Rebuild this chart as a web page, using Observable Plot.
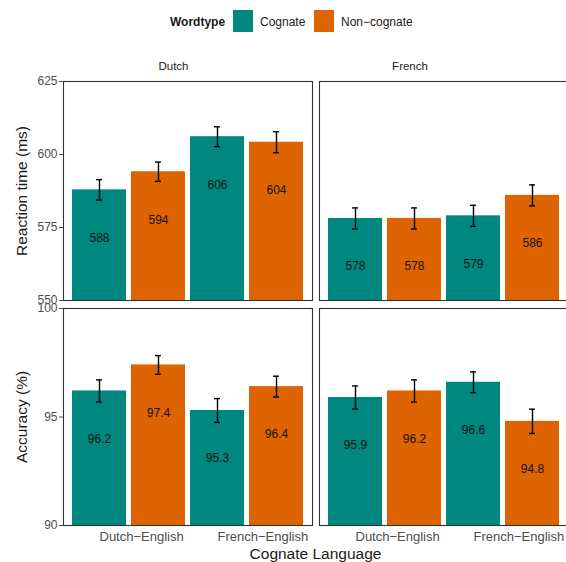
<!DOCTYPE html>
<html><head><meta charset="utf-8">
<script src="https://cdn.jsdelivr.net/npm/d3@7"></script>
<script src="https://cdn.jsdelivr.net/npm/@observablehq/plot@0.6"></script>
<style>
html,body{margin:0;padding:0;background:#fff;overflow:hidden}
#chart{position:relative;width:566px;height:562px;overflow:hidden;font-family:"Liberation Sans",Arial,Helvetica,sans-serif;color:#1a1a1a}
.abs{position:absolute;white-space:nowrap;line-height:1}
#chart svg{position:absolute;overflow:visible;background:transparent}
</style></head><body><div id="chart"></div>
<script>
// ---- data ----
const languages = ["Dutch", "French"];
const cognateLanguages = ["Dutch−English", "French−English"];
const wordtypes = ["Cognate", "Non−cognate"];
const colors = ["#00877f", "#dd6400"];
// order of values: Dutch−English/Cognate, Dutch−English/Non−cognate, French−English/Cognate, French−English/Non−cognate
const rtDutch = [587.9, 594.1, 606.1, 604.2];
const rtDutchSE = [3.5, 3.3, 3.4, 3.6];
const rtFrench = [578.1, 578.1, 579.0, 586.0];
const rtFrenchSE = [3.6, 3.6, 3.6, 3.6];
const accDutch = [96.2, 97.4, 95.3, 96.4];
const accDutchSE = [0.51, 0.43, 0.55, 0.48];
const accFrench = [95.9, 96.2, 96.6, 94.8];
const accFrenchSE = [0.53, 0.51, 0.48, 0.56];
const rtTicks = [550, 575, 600, 625];
const accTicks = [90, 95, 100];

const keys = [];
const keyGroup = [], keyType = [];
for (const g of cognateLanguages) for (const t of wordtypes) { keys.push(g + "|" + t); keyGroup.push(g); keyType.push(t); }

const root = document.getElementById("chart");
const FONT = '"Liberation Sans",Arial,Helvetica,sans-serif';

function panel({values, se, ticks, fmt, px, py, pw, ph, showY, showX}) {
  const data = keys.map((k, i) => ({key: k, group: keyGroup[i], type: keyType[i], value: values[i], se: se[i]}));
  const mL = 45, mR = 2, mT = 12, mB = 30;
  const lo = ticks[0], hi = ticks[ticks.length - 1];
  const marks = [
    Plot.barY(data, {x: "key", y1: lo, y2: "value", fill: "type"}),
    Plot.ruleX(data, {x: "key", y1: d => d.value - d.se, y2: d => d.value + d.se, stroke: "#000", strokeWidth: 1.4}),
    Plot.tickY(data, {x: "key", y: d => d.value - d.se, insetLeft: 24, insetRight: 24, stroke: "#000", strokeWidth: 1.4}),
    Plot.tickY(data, {x: "key", y: d => d.value + d.se, insetLeft: 24, insetRight: 24, stroke: "#000", strokeWidth: 1.4}),
    Plot.text(data, {x: "key", y: "value", dy: 48, text: d => fmt(d.value), fontSize: 12, fill: "#111"}),
    Plot.frame({stroke: "#333", strokeWidth: 1.1})
  ];
  if (showY) marks.push(Plot.axisY({ticks, tickSize: 4, tickPadding: 2, fontSize: 12, color: "#4d4d4d", label: null}));
  if (showX) marks.push(Plot.axisX({tickSize: 0, tickPadding: 6, fontSize: 13, color: "#4d4d4d", label: null, textAnchor: "start",
    tickFormat: d => d.endsWith("|" + wordtypes[0]) ? d.split("|")[0] : ""}));
  const svg = Plot.plot({
    width: mL + pw + mR, height: mT + ph + mB,
    marginLeft: mL, marginRight: mR, marginTop: mT, marginBottom: mB,
    style: {fontFamily: FONT, fontSize: "12px", background: "transparent", overflow: "visible"},
    x: {domain: keys, paddingInner: 0.09, paddingOuter: 0.145, axis: null},
    y: {domain: [lo, hi], axis: null},
    color: {domain: wordtypes, range: colors},
    marks
  });
  svg.style.left = (px - mL) + "px";
  svg.style.top = (py - mT) + "px";
  root.appendChild(svg);
}

const fmtInt = v => String(Math.round(v));
const fmt1 = v => v.toFixed(1);
panel({values: rtDutch, se: rtDutchSE, ticks: rtTicks, fmt: fmtInt, px: 63, py: 81, pw: 249, ph: 219, showY: true, showX: false});
panel({values: rtFrench, se: rtFrenchSE, ticks: rtTicks, fmt: fmtInt, px: 319, py: 81, pw: 249, ph: 219, showY: false, showX: false});
panel({values: accDutch, se: accDutchSE, ticks: accTicks, fmt: fmt1, px: 63, py: 308, pw: 249, ph: 217, showY: true, showX: true});
panel({values: accFrench, se: accFrenchSE, ticks: accTicks, fmt: fmt1, px: 319, py: 308, pw: 249, ph: 217, showY: false, showX: true});

function label(text, css) {
  const d = document.createElement("div");
  d.className = "abs";
  d.textContent = text;
  Object.assign(d.style, css);
  root.appendChild(d);
  return d;
}
// strip labels
label(languages[0], {left: "173.5px", top: "61px", fontSize: "11.5px", transform: "translateX(-50%)"});
label(languages[1], {left: "410px", top: "61px", fontSize: "11.5px", transform: "translateX(-50%)"});
// axis titles
label("Reaction time (ms)", {left: "22px", top: "190.5px", fontSize: "15.5px", transform: "translate(-50%,-50%) rotate(-90deg)"});
label("Accuracy (%)", {left: "22px", top: "416.5px", fontSize: "15.5px", transform: "translate(-50%,-50%) rotate(-90deg)"});
label("Cognate Language", {left: "315.5px", top: "546px", fontSize: "15.5px", transform: "translateX(-50%)"});
// legend
label("Wordtype", {left: "170px", top: "16px", fontSize: "12px", fontWeight: "bold"});
const sw1 = label("", {left: "233px", top: "10px", width: "20px", height: "22px", background: colors[0]});
label(wordtypes[0], {left: "260px", top: "16px", fontSize: "12px"});
const sw2 = label("", {left: "314px", top: "10px", width: "20px", height: "22px", background: colors[1]});
label(wordtypes[1], {left: "341px", top: "16px", fontSize: "12px"});
</script></body></html>
